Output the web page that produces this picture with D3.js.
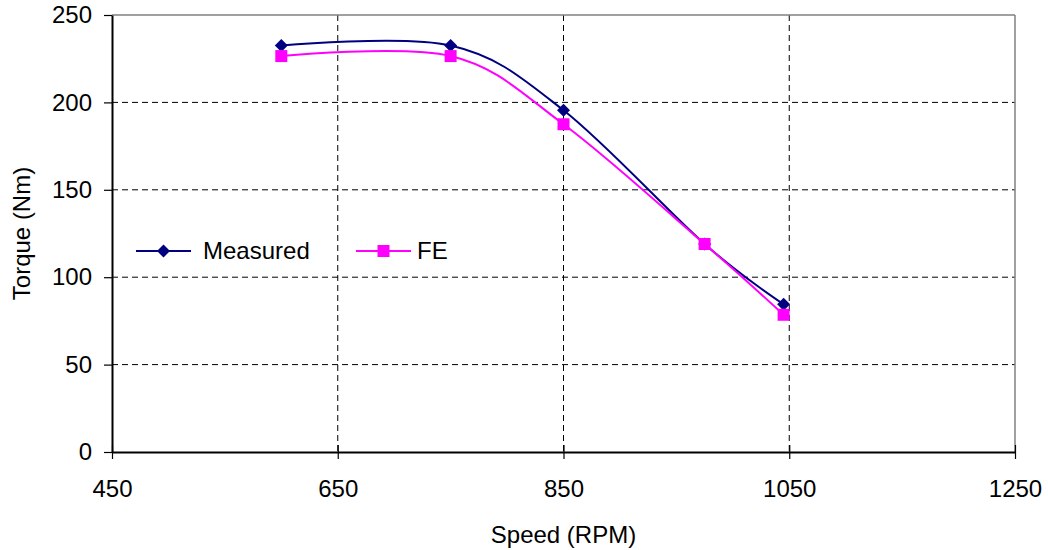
<!DOCTYPE html>
<html>
<head>
<meta charset="utf-8">
<script src="https://cdn.jsdelivr.net/npm/d3@7"></script>
<style>
  html, body { margin: 0; padding: 0; background: #fff; }
  svg { display: block; font-family: "Liberation Sans", Arial, sans-serif; }
</style>
</head>
<body>
<svg id="chart" width="1048" height="550"></svg>
<script>
// Torque vs speed: measured and finite-element results
const speeds = [600, 750, 850, 975, 1045];
const measured = [232.5, 232.5, 195.5, 119, 84.5];
const fe = [226.5, 226.5, 187.5, 119, 78.5];
const xTicks = [450, 650, 850, 1050, 1250];
const yTicks = [0, 50, 100, 150, 200, 250];
const seriesNames = ["Measured", "FE"];

const FONT = 24;
const svg = d3.select("#chart");
const plotL = 112, plotR = 1015, plotT = 15, plotB = 452;

const x = d3.scaleLinear().domain([450, 1250]).range([plotL, plotR]);
const y = d3.scaleLinear().domain([0, 250]).range([plotB, plotT]);

// Dashed gridlines
const grid = svg.append("g");
grid.selectAll("line.h").data(yTicks.filter(t => t > 0 && t < 250)).join("line")
  .attr("x1", plotL).attr("x2", plotR)
  .attr("y1", d => y(d)).attr("y2", d => y(d))
  .attr("stroke", "#000").attr("stroke-width", 1).attr("stroke-dasharray", "6,4");
grid.selectAll("line.v").data(xTicks.filter(t => t > 450 && t < 1250)).join("line")
  .attr("y1", plotT).attr("y2", plotB)
  .attr("x1", d => x(d)).attr("x2", d => x(d))
  .attr("stroke", "#000").attr("stroke-width", 1).attr("stroke-dasharray", "6,4");

// Plot frame (top and right edges are grey)
svg.append("line").attr("x1", plotL).attr("x2", plotR).attr("y1", plotT).attr("y2", plotT)
  .attr("stroke", "#808080").attr("stroke-width", 1.5);
svg.append("line").attr("x1", plotR).attr("x2", plotR).attr("y1", plotT).attr("y2", plotB)
  .attr("stroke", "#808080").attr("stroke-width", 1.5);

// Axes
const xAxis = svg.append("g").attr("transform", `translate(0,${plotB})`)
  .call(d3.axisBottom(x).tickValues(xTicks).tickFormat(d3.format("d"))
    .tickSize(7).tickSizeOuter(0).tickPadding(21));
const yAxis = svg.append("g").attr("transform", `translate(${plotL},0)`)
  .call(d3.axisLeft(y).tickValues(yTicks).tickFormat(d3.format("d"))
    .tickSize(8).tickSizeOuter(0).tickPadding(12));

[xAxis, yAxis].forEach(g => {
  g.attr("font-size", FONT).attr("font-family", "Liberation Sans, Arial, sans-serif");
  g.select(".domain").attr("stroke", "#000").attr("stroke-width", 2);
  g.selectAll(".tick text").attr("fill", "#000");
  g.selectAll(".tick line").attr("stroke", "#000").attr("stroke-width", 1.2);
});
// x ticks cross the axis line
xAxis.selectAll(".tick line").attr("y1", -7);

// Axis titles
svg.append("text").attr("x", x(850)).attr("y", 543).attr("text-anchor", "middle")
  .attr("font-size", FONT).text("Speed (RPM)");
svg.append("text").attr("transform", `translate(30,${y(125)}) rotate(-90)`)
  .attr("text-anchor", "middle").attr("font-size", FONT).text("Torque (Nm)");

// Series
const line = d3.line().x(d => x(d[0])).y(d => y(d[1])).curve(d3.curveCatmullRom.alpha(0));
const seriesData = [
  { name: seriesNames[0], color: "#000080", values: speeds.map((s, i) => [s, measured[i]]) },
  { name: seriesNames[1], color: "#FF00FF", values: speeds.map((s, i) => [s, fe[i]]) }
];

const diamond = size => `M0,${-size}L${size},0L0,${size}L${-size},0Z`;
const square = size => `M${-size},${-size}H${size}V${size}H${-size}Z`;

seriesData.forEach((s, k) => {
  svg.append("path").datum(s.values).attr("d", line)
    .attr("fill", "none").attr("stroke", s.color).attr("stroke-width", 2);
  svg.append("g").selectAll("path").data(s.values).join("path")
    .attr("transform", d => `translate(${x(d[0])},${y(d[1])})`)
    .attr("d", k === 0 ? diamond(6.5) : square(6))
    .attr("fill", s.color);
});

// Legend
const legendY = 251;
const legendItems = [
  { x0: 136, textX: 203 },
  { x0: 356, textX: 417 }
];
seriesData.forEach((s, k) => {
  const it = legendItems[k];
  const g = svg.append("g");
  g.append("line").attr("x1", it.x0).attr("x2", it.x0 + 55).attr("y1", legendY).attr("y2", legendY)
    .attr("stroke", s.color).attr("stroke-width", 2);
  g.append("path").attr("transform", `translate(${it.x0 + 27.5},${legendY})`)
    .attr("d", k === 0 ? diamond(6.5) : square(6)).attr("fill", s.color);
  g.append("text").attr("x", it.textX).attr("y", legendY).attr("dy", "0.35em")
    .attr("font-size", FONT).text(s.name);
});
</script>
</body>
</html>
